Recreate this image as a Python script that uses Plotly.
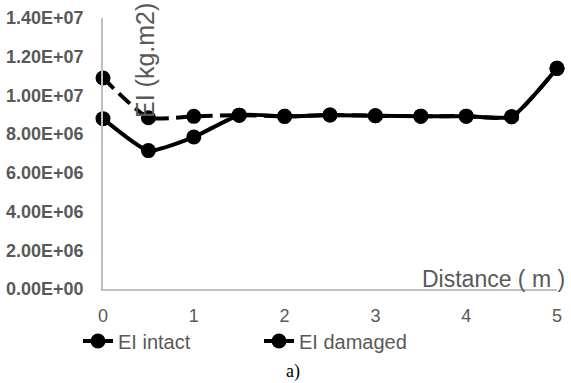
import plotly.graph_objects as go

distance = [0, 0.5, 1, 1.5, 2, 2.5, 3, 3.5, 4, 4.5, 5]
ei_intact = [1.09e7, 8.85e6, 8.92e6, 8.98e6, 8.92e6, 8.99e6, 8.95e6, 8.93e6, 8.93e6, 8.9e6, 1.14e7]
ei_damaged = [8.8e6, 7.15e6, 7.85e6, 8.98e6, 8.92e6, 8.99e6, 8.95e6, 8.93e6, 8.93e6, 8.9e6, 1.14e7]
y_tickvals = [0, 2e6, 4e6, 6e6, 8e6, 1e7, 1.2e7, 1.4e7]
y_ticktext = ["0.00E+00", "2.00E+06", "4.00E+06", "6.00E+06", "8.00E+06", "1.00E+07", "1.20E+07", "1.40E+07"]
x_tickvals = [0, 1, 2, 3, 4, 5]

W, H = 571, 383
L, R, T, B = 103, 14, 18, 94
pw, ph = W - L - R, H - T - B

def px(x):
    return (x - L) / pw

def py(y):
    return (H - B - y) / ph

grey = "#595959"
axis_grey = "#bfbfbf"

fig = go.Figure()
fig.add_trace(go.Scatter(
    x=distance, y=ei_intact, name="EI intact", mode="lines+markers",
    line=dict(color="black", width=4, dash="15px,7px", shape="spline", smoothing=0.5),
    marker=dict(size=15, color="black"), cliponaxis=False))
fig.add_trace(go.Scatter(
    x=distance, y=ei_damaged, name="EI damaged", mode="lines+markers",
    line=dict(color="black", width=4, shape="spline", smoothing=0.5),
    marker=dict(size=15, color="black"), cliponaxis=False))

fig.update_layout(
    width=W, height=H,
    margin=dict(l=L, r=R, t=T, b=B, pad=0, autoexpand=False),
    paper_bgcolor="white", plot_bgcolor="white",
    font=dict(family="Liberation Sans, Arial, sans-serif", color=grey),
    showlegend=True,
    legend=dict(orientation="h", x=px(78), y=py(341), xanchor="left", yanchor="middle",
                font=dict(size=20, color=grey), bgcolor="rgba(0,0,0,0)",
                entrywidth=136, entrywidthmode="pixels", itemwidth=30),
    xaxis=dict(range=[0, 5], tickvals=x_tickvals, showgrid=False, zeroline=False,
               showline=True, linecolor=axis_grey, linewidth=1.5, ticks="",
               automargin=False,
               tickfont=dict(size=18, color=grey, family="Liberation Sans, Arial"),
               ticklabelstandoff=10),
    yaxis=dict(range=[0, 1.4e7], tickvals=y_tickvals,
               ticktext=["<b>" + t + "</b>" for t in y_ticktext],
               showgrid=False, zeroline=False, showline=True, linecolor=axis_grey,
               linewidth=1.5, ticks="", automargin=False,
               tickfont=dict(size=18, color=grey, family="Liberation Sans, Arial"),
               ticklabelstandoff=14),
    annotations=[
        dict(text="EI (kg.m2)", xref="paper", yref="paper", x=px(145), y=py(61),
             xanchor="center", yanchor="middle", textangle=-90, showarrow=False,
             font=dict(size=25, color=grey)),
        dict(text="Distance ( m )", xref="paper", yref="paper", x=px(567), y=py(279),
             xanchor="right", yanchor="middle", showarrow=False,
             font=dict(size=23, color=grey)),
        dict(text="a)", xref="paper", yref="paper", x=px(293), y=py(371),
             xanchor="center", yanchor="middle", showarrow=False,
             font=dict(size=18, color="black", family="Liberation Serif, Times New Roman, serif")),
    ],
)

fig.update_xaxes(tickprefix="<b>", ticksuffix="</b>")

fig.write_html("out.html", config={"displayModeBar": False},
               post_script="document.body.style.margin='0px';")
